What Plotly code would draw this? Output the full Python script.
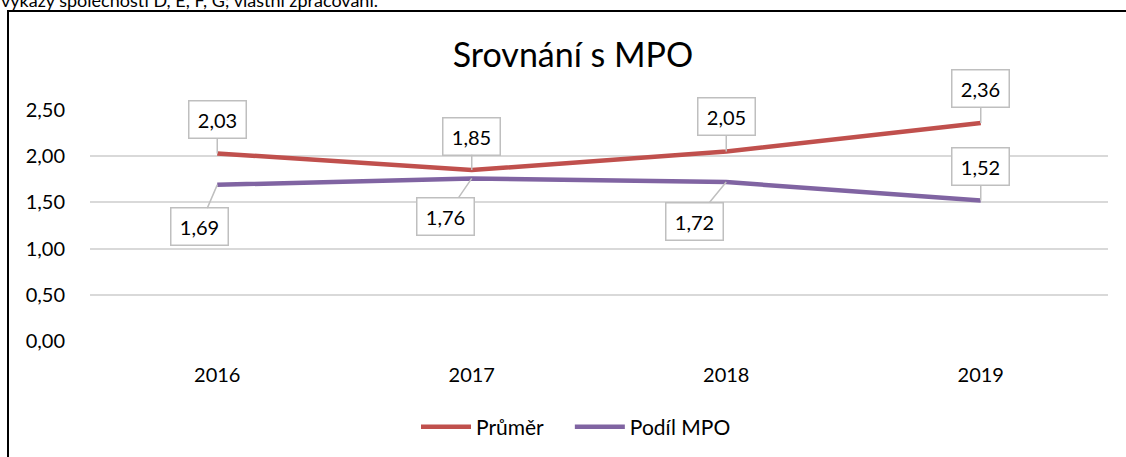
import plotly.graph_objects as go

# data
years = ['2016', '2017', '2018', '2019']
prumer = [2.03, 1.85, 2.05, 2.36]
podil_mpo = [1.69, 1.76, 1.72, 1.52]
y_ticks = [0, 0.5, 1.0, 1.5, 2.0, 2.5]

FONT = 'Lato'
RED = '#C0504D'
PURPLE = '#8064A2'

W, H = 1126, 457
L, R, T, B = 90, 18, 110, 116
PW = W - L - R
PH = H - T - B


def py(pix):
    # page pixel row -> paper y
    return (T + PH - pix) / PH


def px_(pix):
    # page pixel column -> paper x
    return (pix - L) / PW


fig = go.Figure()

fig.add_trace(go.Scatter(x = years, y = prumer, mode = 'lines', name = 'Průměr    ',
                         line = dict(color = RED, width = 4.5)))
fig.add_trace(go.Scatter(x = years, y = podil_mpo, mode = 'lines', name = 'Podíl MPO',
                         line = dict(color = PURPLE, width = 4.5)))


def callout(i, v, ax, ay):
    fig.add_annotation(x = i, y = v, xref = 'x', yref = 'y', ax = ax, ay = ay,
                       text = f"{v:.2f}".replace('.', ','),
                       showarrow = True, arrowhead = 0, arrowwidth = 1.5, arrowcolor = '#BFBFBF',
                       bordercolor = '#BFBFBF', borderwidth = 1.5, borderpad = 6, bgcolor = 'white',
                       width = 44, height = 24,
                       font = dict(family = FONT, size = 20, color = 'black'))


# label offsets (px) for the two series
offs_red = [(0, -34), (0, -34), (0, -35), (0, -34)]
offs_purple = [(-18, 42), (-26, 38), (-32, 39), (0, -34)]

for i, (v, (ax, ay)) in enumerate(zip(prumer, offs_red)):
    callout(i, v, ax, ay)
for i, (v, (ax, ay)) in enumerate(zip(podil_mpo, offs_purple)):
    callout(i, v, ax, ay)

# caption line cut off at top of the image
fig.add_annotation(text = 'výkazy společností D, E, F, G; vlastní zpracování.',
                   xref = 'paper', yref = 'paper', x = px_(-1), y = py(13),
                   xanchor = 'left', yanchor = 'bottom', showarrow = False,
                   font = dict(family = FONT, size = 18, color = 'black'))

# chart area border
fig.add_shape(type = 'rect', xref = 'paper', yref = 'paper',
              x0 = px_(8), x1 = 1.2, y0 = -1.0, y1 = py(11),
              line = dict(color = 'black', width = 2), layer = 'below')

fig.update_layout(
    width = W, height = H,
    margin = dict(l = L, r = R, t = T, b = B, autoexpand = False),
    paper_bgcolor = 'white', plot_bgcolor = 'white',
    separators = ', ',
    title = dict(text = 'Srovnání s MPO', x = 573 / W, xanchor = 'center',
                 y = 1 - 55 / H, yanchor = 'middle',
                 font = dict(family = FONT, size = 34, color = 'black')),
    font = dict(family = FONT, size = 20, color = 'black'),
    showlegend = True,
    legend = dict(orientation = 'h', x = px_(576), xanchor = 'center',
                  y = py(427), yanchor = 'middle',
                  font = dict(family = FONT, size = 21, color = 'black'),
                  itemwidth = 50, bgcolor = 'rgba(0,0,0,0)'),
)

fig.update_xaxes(type = 'category', showgrid = False, zeroline = False, showline = False,
                 ticks = '', ticklabelstandoff = 20, range = [-0.5, 3.5],
                 tickfont = dict(family = FONT, size = 20, color = 'black'))
fig.update_yaxes(range = [0, 2.5], tickvals = y_ticks, tickformat = '.2f',
                 showgrid = True, gridcolor = '#D9D9D9', gridwidth = 1.5,
                 zeroline = False, showline = False, ticks = '', ticklabelstandoff = 24,
                 tickfont = dict(family = FONT, size = 20, color = 'black'))

# drop the default 8px body margin so the figure sits at the page corner
fig.write_html("out.html", config = {'displayModeBar': False},
               post_script = "document.body.style.margin = '0px';")
